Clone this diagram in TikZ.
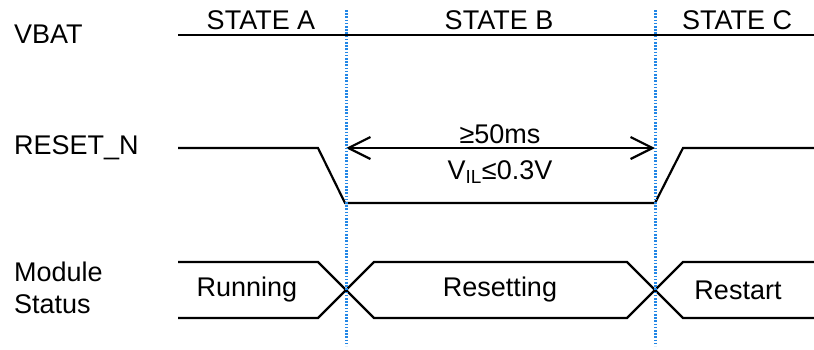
\documentclass[tikz,border=0pt]{standalone}
\usepackage{fontspec}
\setmainfont{Liberation Sans}
\usetikzlibrary{arrows.meta}
\definecolor{edgeblue}{RGB}{35,135,230}
\newcommand{\sig}{\fontsize{27}{32}\selectfont}

\begin{document}
\begin{tikzpicture}[x=1pt, y=-1pt, line width=2.2pt,
    txt/.style={font=\sig, inner sep=0pt},
    bound/.style={edgeblue, line width=3pt, dash pattern=on 1.6pt off 1.6pt},
    barb/.style={{Straight Barb[length=22pt,width=22pt]}-{Straight Barb[length=22pt,width=22pt]}}]
    \useasboundingbox (0,0) rectangle (814,349);

    % signal names
    \node [txt, anchor=west] (vbat) at (13, 34) {VBAT};
    \node [txt, anchor=west] (rstn) at (13, 148) {RESET\_N};
    \node [txt, anchor=west, align=left] (mods) at (13, 288) {Module\\Status};

    % states
    \node [txt] (stA) at (261, 20) {STATE A};
    \node [txt] (stB) at (499, 20) {STATE B};
    \node [txt] (stC) at (737, 20) {STATE C};

    % state boundaries
    \coordinate (abTop) at (346, 10);
    \coordinate (abBot) at (346, 346);
    \coordinate (bcTop) at (655, 10);
    \coordinate (bcBot) at (655, 346);

    % VBAT
    \draw (178, 35) -- (814, 35);

    % RESET_N
    \draw (178, 148) -- (318, 148) -- (345, 203) -- (655, 203) -- (683, 148) -- (814, 148);
    \coordinate (lowA) at (346, 148);
    \coordinate (lowB) at (655, 148);
    \draw [barb] (lowA) -- (lowB);
    \node [txt] (tlow) at (500, 134) {≥50ms};
    \node [txt] (vil) at (500, 172) {V\textsubscript{IL}≤0.3V};

    % module status
    \draw (178, 262) -- (318, 262) -- (374, 318) -- (627, 318) -- (683, 262) -- (814, 262);
    \draw (178, 318) -- (318, 318) -- (374, 262) -- (627, 262) -- (683, 318) -- (814, 318);
    \node [txt] (run) at (247, 290) {Running};
    \node [txt] (rst) at (500, 290) {Resetting};
    \node [txt] (rsa) at (738, 290) {Restart};

    \draw [bound] (abTop) -- (abBot);
    \draw [bound] (bcTop) -- (bcBot);
\end{tikzpicture}
\end{document}
